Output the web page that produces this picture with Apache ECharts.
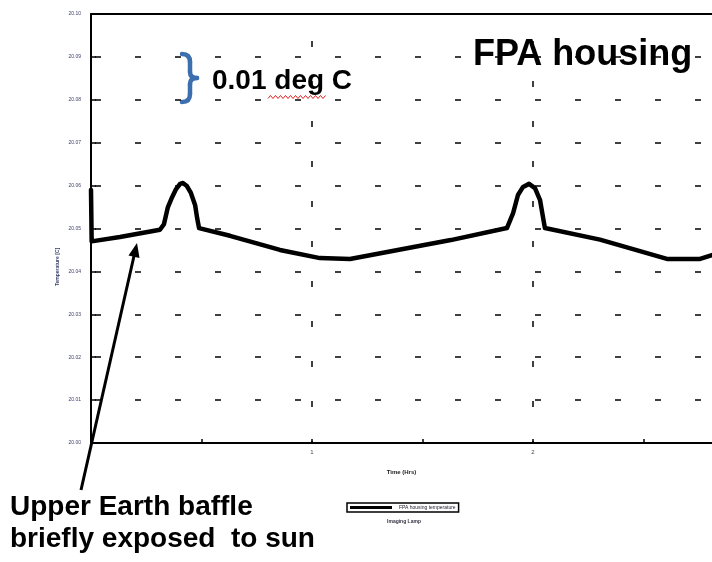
<!DOCTYPE html>
<html><head><meta charset="utf-8">
<script src="https://cdn.jsdelivr.net/npm/echarts@6/dist/echarts.min.js"></script>
<style>html,body{margin:0;padding:0;background:#fff}#c{width:712px;height:562px}</style>
</head><body><div id="c"></div>
<script>
// Data
const timeHrs = [0, 0.003, 0.131, 0.312, 0.330, 0.348, 0.367, 0.385, 0.403, 0.416, 0.434, 0.452, 0.471, 0.480, 0.489, 0.629, 0.855, 1.036, 1.172, 1.628, 1.882, 1.910, 1.932, 1.955, 1.982, 2.009, 2.032, 2.045, 2.054, 2.303, 2.606, 2.756, 2.81];
const tempC   = [20.059, 20.047, 20.048, 20.0497, 20.0510, 20.0550, 20.0573, 20.0592, 20.0604, 20.0606, 20.0599, 20.0583, 20.0555, 20.0525, 20.0501, 20.0483, 20.045, 20.0431, 20.0429, 20.0473, 20.0501, 20.0536, 20.0578, 20.0597, 20.0604, 20.0594, 20.0566, 20.0527, 20.0501, 20.0474, 20.0429, 20.0429, 20.0438];
const xTickValues = [0.5, 1, 1.5, 2, 2.5];
const xLabelValues = [1, 2];
const xGridValues = [1, 2];
const seriesName = 'FPA housing temperature';

const chart = echarts.init(document.getElementById('c'), null, {renderer: 'canvas'});
const pts = timeHrs.map((t, i) => [t, tempC[i]]);

// red squiggle under "deg"
const squiggle = [];
for (let x = 268, k = 0; x <= 326; x += 2.5, k++) squiggle.push([x, 97 + (k % 2 ? -1.5 : 1.5)]);

const braceStyle = {stroke: '#3b6fae', lineWidth: 4.5, fill: 'none', lineCap: 'round'};
const bold = sz => 'bold ' + sz + 'px "Liberation Sans", Arial, sans-serif';

const option = {
  animation: false,
  backgroundColor: '#fff',
  grid: {left: 91, top: 14, right: 0, bottom: 119, show: false},
  xAxis: [{
    type: 'value', min: 0, max: 2.81, interval: 0.5,
    axisLine: {show: true, lineStyle: {color: '#000', width: 2}},
    axisTick: {show: true, inside: true, length: 4, customValues: xTickValues, lineStyle: {color: '#000', width: 1.5}},
    axisLabel: {fontSize: 6, color: '#445', margin: 6, customValues: xLabelValues,
      formatter: v => (xLabelValues.some(l => Math.abs(v - l) < 1e-6) ? String(Math.round(v)) : '')},
    splitLine: {show: false},
    name: 'Time (Hrs)', nameLocation: 'middle', nameGap: 26,
    nameTextStyle: {fontSize: 6, fontWeight: 'bold', color: '#222'}
  }, {
    type: 'value', min: 0, max: 2.81, position: 'top',
    axisLine: {show: true, lineStyle: {color: '#000', width: 2}}, axisTick: {show: false}, axisLabel: {show: false},
    splitLine: {show: false}
  }],
  yAxis: {
    type: 'value', min: 20.00, max: 20.10, interval: 0.01,
    axisLine: {show: true, lineStyle: {color: '#000', width: 2}},
    axisTick: {show: true, inside: true, length: 5, lineStyle: {color: '#000', width: 1.5}},
    axisLabel: {fontSize: 5, color: '#3a3f6a', margin: 10, formatter: v => v.toFixed(2)},
    splitLine: {show: true, lineStyle: {color: '#000', width: 1.5, type: [6, 34], dashOffset: -4}}
  },
  legend: {
    show: true, left: 347, top: 503, orient: 'horizontal',
    borderColor: '#000', borderWidth: 1.5, padding: [2, 3],
    itemWidth: 42, itemHeight: 3, itemGap: 2,
    icon: 'rect',
    textStyle: {fontSize: 5, color: '#223', padding: [0, 0, 0, 2]},
    data: [seriesName]
  },
  series: [{
    name: seriesName, type: 'line', data: pts, showSymbol: false, symbol: 'none',
    lineStyle: {color: '#000', width: 4.5, join: 'round', cap: 'round'}, itemStyle: {color: '#000'},
    markLine: {
      silent: true, symbol: ['none', 'none'], label: {show: false},
      lineStyle: {color: '#000', width: 1.5, type: [6, 34], dashOffset: 4},
      data: xGridValues.map(v => ({xAxis: v}))
    },
    z: 3
  }],
  graphic: [
    {type: 'text', x: 58, y: 267, rotation: Math.PI / 2,
     style: {text: 'Temperature [C]', fontSize: 5, fontWeight: 'bold', fill: '#3a3f6a', align: 'center', verticalAlign: 'middle'}},
    {type: 'text', x: 473, y: 55, style: {text: 'FPA housing', font: bold(36), fill: '#000', verticalAlign: 'middle'}},
    {type: 'bezierCurve', shape: {x1: 182, y1: 54, cpx1: 190, cpy1: 54, x2: 190, y2: 62}, style: braceStyle},
    {type: 'line', shape: {x1: 190, y1: 62, x2: 190, y2: 72}, style: braceStyle},
    {type: 'bezierCurve', shape: {x1: 190, y1: 72, cpx1: 190, cpy1: 78, x2: 197, y2: 78}, style: braceStyle},
    {type: 'bezierCurve', shape: {x1: 197, y1: 78, cpx1: 190, cpy1: 78, x2: 190, y2: 84}, style: braceStyle},
    {type: 'line', shape: {x1: 190, y1: 84, x2: 190, y2: 94}, style: braceStyle},
    {type: 'bezierCurve', shape: {x1: 190, y1: 94, cpx1: 190, cpy1: 102, x2: 182, y2: 102}, style: braceStyle},
    {type: 'text', x: 212, y: 81, style: {text: '0.01 deg C', font: bold(28), fill: '#000', verticalAlign: 'middle'}},
    {type: 'polyline', shape: {points: squiggle}, style: {stroke: '#e02020', lineWidth: 1, fill: 'none'}},
    {type: 'line', shape: {x1: 81, y1: 490, x2: 134, y2: 256}, style: {stroke: '#000', lineWidth: 3}},
    {type: 'polygon', shape: {points: [[137, 243], [139.5, 258], [128.5, 255.5]]}, style: {fill: '#000'}},
    {type: 'text', x: 10, y: 507, style: {text: 'Upper Earth baffle', font: bold(28), fill: '#000', verticalAlign: 'middle'}},
    {type: 'text', x: 10, y: 539, style: {text: 'briefly exposed  to sun', font: bold(28), fill: '#000', verticalAlign: 'middle'}},
    {type: 'text', x: 404, y: 522, style: {text: 'Imaging Lamp', fontSize: 5, fontWeight: 'bold', fill: '#334', align: 'center', verticalAlign: 'middle'}}
  ]
};
chart.setOption(option);
</script>
</body></html>
